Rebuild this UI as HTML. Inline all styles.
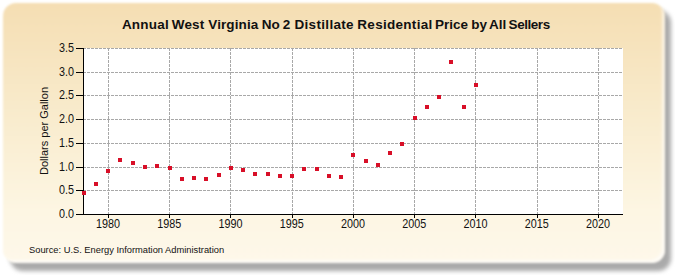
<!DOCTYPE html>
<html><head><meta charset="utf-8"><style>
html,body{margin:0;padding:0;width:675px;height:275px;overflow:hidden;background:#fff;}
.shadow{position:absolute;left:10px;top:10px;width:661px;height:261px;border-radius:13px;background:#aaaaaa;filter:blur(2.2px);}
.panel{position:absolute;left:3px;top:3px;width:662px;height:260px;border-radius:13px;
background:linear-gradient(to bottom,#f5deb3 0%,#f9ecce 45%,#fdf6e3 80%,#fef8ea 100%);filter:blur(1.2px);box-shadow:inset -3px -3px 2px rgba(255,255,255,0.6);}
svg{position:absolute;left:0;top:0;}
.t{font-family:"Liberation Sans",sans-serif;font-size:11px;fill:#111;}
.title{font-family:"Liberation Sans",sans-serif;font-size:13.5px;font-weight:bold;fill:#111;}
.src{font-family:"Liberation Sans",sans-serif;font-size:9.8px;fill:#111;}
.tk{font-family:"Liberation Sans",sans-serif;font-size:12px;fill:#111;}
</style></head><body>
<div class="shadow"></div>
<div class="panel"></div>
<svg width="675" height="275" viewBox="0 0 675 275" shape-rendering="crispEdges">
<text y="29" class="title"><tspan x="121.9" letter-spacing="0.2">Annual</tspan><tspan x="171.8" letter-spacing="0.15">West</tspan><tspan x="208.3" letter-spacing="0.1">Virginia</tspan><tspan x="261.8">No</tspan><tspan x="282.8">2</tspan><tspan x="294.4" letter-spacing="0.33">Distillate</tspan><tspan x="357.3" letter-spacing="0.29">Residential</tspan><tspan x="435.1">Price</tspan><tspan x="471.2">by</tspan><tspan x="488.9">All</tspan><tspan x="508.6" letter-spacing="-0.45">Sellers</tspan></text>
<text transform="translate(47.7,131) rotate(-90)" text-anchor="middle" class="t">Dollars per Gallon</text>
<text transform="translate(29,253) scale(0.952,1)" class="src">Source: U.S. Energy Information Administration</text>
<rect x="83" y="48" width="540" height="166" fill="#fff"/>
<line x1="83" y1="190.5" x2="623" y2="190.5" stroke="#a8a8a8" stroke-width="1" stroke-dasharray="3,1"/>
<line x1="83" y1="167.5" x2="623" y2="167.5" stroke="#a8a8a8" stroke-width="1" stroke-dasharray="3,1"/>
<line x1="83" y1="143.5" x2="623" y2="143.5" stroke="#a8a8a8" stroke-width="1" stroke-dasharray="3,1"/>
<line x1="83" y1="119.5" x2="623" y2="119.5" stroke="#a8a8a8" stroke-width="1" stroke-dasharray="3,1"/>
<line x1="83" y1="95.5" x2="623" y2="95.5" stroke="#a8a8a8" stroke-width="1" stroke-dasharray="3,1"/>
<line x1="83" y1="72.5" x2="623" y2="72.5" stroke="#a8a8a8" stroke-width="1" stroke-dasharray="3,1"/>
<line x1="83" y1="48.5" x2="623" y2="48.5" stroke="#a8a8a8" stroke-width="1" stroke-dasharray="3,1"/>
<line x1="108.5" y1="48" x2="108.5" y2="214" stroke="#a8a8a8" stroke-width="1" stroke-dasharray="3,1"/>
<line x1="169.5" y1="48" x2="169.5" y2="214" stroke="#a8a8a8" stroke-width="1" stroke-dasharray="3,1"/>
<line x1="230.5" y1="48" x2="230.5" y2="214" stroke="#a8a8a8" stroke-width="1" stroke-dasharray="3,1"/>
<line x1="292.5" y1="48" x2="292.5" y2="214" stroke="#a8a8a8" stroke-width="1" stroke-dasharray="3,1"/>
<line x1="353.5" y1="48" x2="353.5" y2="214" stroke="#a8a8a8" stroke-width="1" stroke-dasharray="3,1"/>
<line x1="414.5" y1="48" x2="414.5" y2="214" stroke="#a8a8a8" stroke-width="1" stroke-dasharray="3,1"/>
<line x1="475.5" y1="48" x2="475.5" y2="214" stroke="#a8a8a8" stroke-width="1" stroke-dasharray="3,1"/>
<line x1="537.5" y1="48" x2="537.5" y2="214" stroke="#a8a8a8" stroke-width="1" stroke-dasharray="3,1"/>
<line x1="598.5" y1="48" x2="598.5" y2="214" stroke="#a8a8a8" stroke-width="1" stroke-dasharray="3,1"/>
<line x1="83.5" y1="48" x2="83.5" y2="215" stroke="#000" stroke-width="1"/>
<line x1="83" y1="214.5" x2="623" y2="214.5" stroke="#000" stroke-width="1"/>
<line x1="76" y1="214.5" x2="83" y2="214.5" stroke="#000" stroke-width="1"/>
<text transform="translate(74,218) scale(0.9,1)" text-anchor="end" class="tk">0.0</text>
<line x1="76" y1="190.5" x2="83" y2="190.5" stroke="#000" stroke-width="1"/>
<text transform="translate(74,194) scale(0.9,1)" text-anchor="end" class="tk">0.5</text>
<line x1="76" y1="167.5" x2="83" y2="167.5" stroke="#000" stroke-width="1"/>
<text transform="translate(74,171) scale(0.9,1)" text-anchor="end" class="tk">1.0</text>
<line x1="76" y1="143.5" x2="83" y2="143.5" stroke="#000" stroke-width="1"/>
<text transform="translate(74,147) scale(0.9,1)" text-anchor="end" class="tk">1.5</text>
<line x1="76" y1="119.5" x2="83" y2="119.5" stroke="#000" stroke-width="1"/>
<text transform="translate(74,123) scale(0.9,1)" text-anchor="end" class="tk">2.0</text>
<line x1="76" y1="95.5" x2="83" y2="95.5" stroke="#000" stroke-width="1"/>
<text transform="translate(74,99) scale(0.9,1)" text-anchor="end" class="tk">2.5</text>
<line x1="76" y1="72.5" x2="83" y2="72.5" stroke="#000" stroke-width="1"/>
<text transform="translate(74,76) scale(0.9,1)" text-anchor="end" class="tk">3.0</text>
<line x1="76" y1="48.5" x2="83" y2="48.5" stroke="#000" stroke-width="1"/>
<text transform="translate(74,52) scale(0.9,1)" text-anchor="end" class="tk">3.5</text>
<line x1="108.5" y1="214" x2="108.5" y2="218" stroke="#000" stroke-width="1"/>
<text transform="translate(107.9,228) scale(0.9,1)" text-anchor="middle" class="tk">1980</text>
<line x1="169.5" y1="214" x2="169.5" y2="218" stroke="#000" stroke-width="1"/>
<text transform="translate(169.15,228) scale(0.9,1)" text-anchor="middle" class="tk">1985</text>
<line x1="230.5" y1="214" x2="230.5" y2="218" stroke="#000" stroke-width="1"/>
<text transform="translate(230.4,228) scale(0.9,1)" text-anchor="middle" class="tk">1990</text>
<line x1="292.5" y1="214" x2="292.5" y2="218" stroke="#000" stroke-width="1"/>
<text transform="translate(291.65,228) scale(0.9,1)" text-anchor="middle" class="tk">1995</text>
<line x1="353.5" y1="214" x2="353.5" y2="218" stroke="#000" stroke-width="1"/>
<text transform="translate(352.9,228) scale(0.9,1)" text-anchor="middle" class="tk">2000</text>
<line x1="414.5" y1="214" x2="414.5" y2="218" stroke="#000" stroke-width="1"/>
<text transform="translate(414.15,228) scale(0.9,1)" text-anchor="middle" class="tk">2005</text>
<line x1="475.5" y1="214" x2="475.5" y2="218" stroke="#000" stroke-width="1"/>
<text transform="translate(475.4,228) scale(0.9,1)" text-anchor="middle" class="tk">2010</text>
<line x1="537.5" y1="214" x2="537.5" y2="218" stroke="#000" stroke-width="1"/>
<text transform="translate(536.65,228) scale(0.9,1)" text-anchor="middle" class="tk">2015</text>
<line x1="598.5" y1="214" x2="598.5" y2="218" stroke="#000" stroke-width="1"/>
<text transform="translate(597.9,228) scale(0.9,1)" text-anchor="middle" class="tk">2020</text>
<rect x="82" y="191" width="4" height="4" fill="#d80f28"/>
<rect x="94" y="182" width="4" height="4" fill="#d80f28"/>
<rect x="106" y="169" width="4" height="4" fill="#d80f28"/>
<rect x="118" y="158" width="4" height="4" fill="#d80f28"/>
<rect x="131" y="161" width="4" height="4" fill="#d80f28"/>
<rect x="143" y="165" width="4" height="4" fill="#d80f28"/>
<rect x="155" y="164" width="4" height="4" fill="#d80f28"/>
<rect x="168" y="166" width="4" height="4" fill="#d80f28"/>
<rect x="180" y="177" width="4" height="4" fill="#d80f28"/>
<rect x="192" y="176" width="4" height="4" fill="#d80f28"/>
<rect x="204" y="177" width="4" height="4" fill="#d80f28"/>
<rect x="217" y="173" width="4" height="4" fill="#d80f28"/>
<rect x="229" y="166" width="4" height="4" fill="#d80f28"/>
<rect x="241" y="168" width="4" height="4" fill="#d80f28"/>
<rect x="253" y="172" width="4" height="4" fill="#d80f28"/>
<rect x="266" y="172" width="4" height="4" fill="#d80f28"/>
<rect x="278" y="174" width="4" height="4" fill="#d80f28"/>
<rect x="290" y="174" width="4" height="4" fill="#d80f28"/>
<rect x="302" y="167" width="4" height="4" fill="#d80f28"/>
<rect x="315" y="167" width="4" height="4" fill="#d80f28"/>
<rect x="327" y="174" width="4" height="4" fill="#d80f28"/>
<rect x="339" y="175" width="4" height="4" fill="#d80f28"/>
<rect x="351" y="153" width="4" height="4" fill="#d80f28"/>
<rect x="364" y="159" width="4" height="4" fill="#d80f28"/>
<rect x="376" y="163" width="4" height="4" fill="#d80f28"/>
<rect x="388" y="151" width="4" height="4" fill="#d80f28"/>
<rect x="400" y="142" width="4" height="4" fill="#d80f28"/>
<rect x="413" y="116" width="4" height="4" fill="#d80f28"/>
<rect x="425" y="105" width="4" height="4" fill="#d80f28"/>
<rect x="437" y="95" width="4" height="4" fill="#d80f28"/>
<rect x="449" y="60" width="4" height="4" fill="#d80f28"/>
<rect x="462" y="105" width="4" height="4" fill="#d80f28"/>
<rect x="474" y="83" width="4" height="4" fill="#d80f28"/>
</svg>
</body></html>
